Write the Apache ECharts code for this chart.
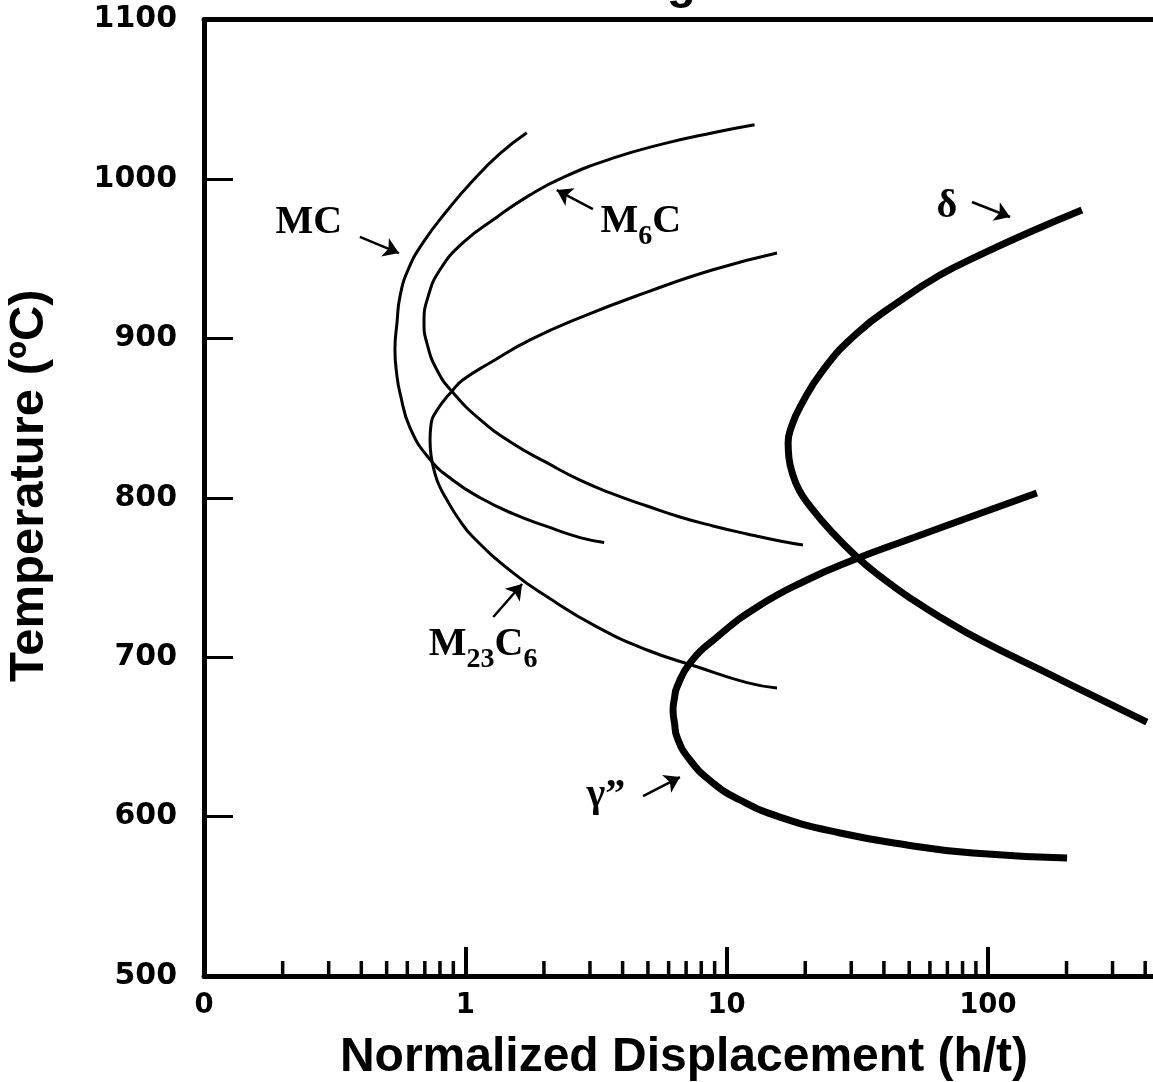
<!DOCTYPE html>
<html><head><meta charset="utf-8">
<script src="https://cdn.jsdelivr.net/npm/echarts@6/dist/echarts.min.js"></script>
<style>html,body{margin:0;padding:0;background:#fff}#c{width:1153px;height:1082px}</style>
</head><body><div id="c"></div>
<script>
// ---- data (x = normalized displacement h/t, log scale; y = temperature °C) ----
const xTickLabels = { '0.1': '0', '1': '1', '10': '10', '100': '100' };
const yTicks = [500, 600, 700, 800, 900, 1000, 1100];
const xRange = [0.1, 440];   // the picture is cropped at the right edge
const minorTicks = [0.2,0.3,0.4,0.5,0.6,0.7,0.8,0.9, 2,3,4,5,6,7,8,9, 20,30,40,50,60,70,80,90, 200,300,400];

const mcCurve = [[1.72,1029],[1.36,1016],[1.07,999],[0.851,980],[0.689,960],[0.604,943],[0.562,926],[0.548,910],[0.538,893],[0.548,876],[0.562,866],[0.614,844],[0.733,824],[0.897,811],[1.14,800],[1.52,790],[2.05,782],[2.75,775],[3.40,772]];
const m6cCurve = [[12.8,1034],[8.87,1029],[5.71,1022],[3.67,1013],[2.37,1001],[1.77,990],[1.32,976],[0.98,960],[0.80,943],[0.72,926],[0.695,910],[0.713,897],[0.78,880],[0.897,866],[1.14,849],[1.52,834],[2.05,822],[2.75,811],[3.67,802.4],[4.96,794.8],[6.63,787.9],[8.87,782.3],[11.97,777.3],[16.0,772.9],[19.6,770.4]];
const m23c6Curve = [[15.6,953.5],[8.87,943],[4.96,929],[2.75,913],[1.77,899],[1.24,884.5],[0.98,874],[0.897,867.6],[0.78,855],[0.739,845.6],[0.733,836.2],[0.739,826.8],[0.759,817.4],[0.793,808],[0.851,798.6],[0.938,787.3],[1.07,775.4],[1.52,753],[2.05,738],[3.19,719],[4.96,704.5],[7.70,694],[11.97,684],[15.6,680.6]];
const deltaCurve = [[229,980.5],[145,966.7],[93.3,952.3],[65.6,939.7],[44.9,922.2],[31.6,903.3],[23.4,880.1],[19.1,856.9],[17.8,845.6],[17.2,834.3],[17.33,824.9],[17.8,816.1],[18.93,804.9],[20.85,794.8],[24.87,779.8],[31.55,762.8],[40.38,748.4],[51.69,735.9],[68.52,723.3],[93.3,710.8],[168,690.1],[268.5,673.7],[406,659.3]];
const gammaCurve = [[154,803],[87.7,788.5],[49.0,773.5],[30.5,760.9],[20.3,748.4],[13.1,731.5],[9.19,712.6],[7.24,696.3],[6.46,681.3],[6.32,674.4],[6.24,666.8],[6.32,658.7],[6.46,649.9],[7.24,635.5],[8.87,621.1],[11.25,610.4],[16.0,599.7],[27.2,589.7],[49.0,582.2],[87.7,577.1],[201,574]];

const arrowMC = [[0.395,963.6],[0.557,953.5]];
const arrowM6C = [[3.08,981.1],[2.24,993.0]];
const arrowM23C6 = [[1.28,725.2],[1.65,745.9]];
const arrowDelta = [[86.9,985.5],[121.6,976.1]];
const arrowGamma = [[4.79,612.9],[6.63,624.8]];

const labelTexts = ['{b|MC}', '{b|M}{s|6}{b|C}', '{b|M}{s|23}{b|C}{s|6}', '{b|δ}', '{b|γ”}'];
const labelPos = [[0.252,972.5],[4.70,973.3],[1.17,708],[69.7,982.5],[3.45,612.9]];

// ---- chart ----
const SANS = 'Liberation Sans, Arial, sans-serif';
const SERIF = 'Liberation Serif, Times New Roman, serif';
const chart = echarts.init(document.getElementById('c'), null, { renderer: 'canvas' });

function curve(data, w) {
  return { type: 'line', data: data, smooth: 0.5, symbol: 'none', silent: true,
    lineStyle: { color: '#000', width: w, cap: 'butt', join: 'round' }, z: 3 };
}

const option = {
  animation: false,
  backgroundColor: '#fff',
  title: { text: 'g', left: 667, top: -38, padding: 0,
    textStyle: { fontFamily: SANS, fontWeight: 'bold', fontSize: 47, color: '#000' } },
  grid: { left: 204, top: 19.5, width: 952, height: 956.5, outerBoundsMode: 'none', containLabel: false },
  xAxis: [{
    type: 'log', logBase: 10, min: xRange[0], max: xRange[1], position: 'bottom',
    name: 'Normalized Displacement (h/t)', nameLocation: 'middle', nameGap: 58,
    nameTextStyle: { fontFamily: SANS, fontWeight: 'bold', fontSize: 48, color: '#000', padding: [0, 0, 0, 8] },
    axisLine: { show: true, lineStyle: { color: '#000', width: 5 } },
    axisTick: { show: true, inside: true, length: 29, lineStyle: { color: '#000', width: 4 } },
    axisLabel: { show: true, margin: 16, color: '#000', fontFamily: 'DejaVu Sans', fontWeight: 'bold', fontSize: 27.5,
      showMaxLabel: false,
      formatter: v => { const k = String(+v.toPrecision(6)); return xTickLabels[k] !== undefined ? xTickLabels[k] : ''; } },
    splitLine: { show: false }, minorTick: { show: false }
  }, {
    type: 'log', logBase: 10, min: xRange[0], max: xRange[1], position: 'top',
    axisLine: { show: true, lineStyle: { color: '#000', width: 5 } },
    axisTick: { show: false }, axisLabel: { show: false }, splitLine: { show: false }
  }],
  yAxis: {
    type: 'value', min: yTicks[0], max: yTicks[yTicks.length - 1], interval: 100,
    name: 'Temperature (ºC)', nameLocation: 'middle', nameGap: 150, nameRotate: 90,
    nameTextStyle: { fontFamily: SANS, fontWeight: 'bold', fontSize: 49, color: '#000', padding: [0, 0, 0, 24] },
    axisLine: { show: true, lineStyle: { color: '#000', width: 5 } },
    axisTick: { show: true, inside: true, length: 29, lineStyle: { color: '#000', width: 3 } },
    axisLabel: { show: true, margin: 27, color: '#000', fontFamily: 'DejaVu Sans', fontWeight: 'bold', fontSize: 30,
      formatter: v => String(v) },
    splitLine: { show: false }
  },
  series: [
    curve(mcCurve, 3), curve(m6cCurve, 3), curve(m23c6Curve, 3),
    curve(deltaCurve, 7), curve(gammaCurve, 7),
    {
      type: 'lines', coordinateSystem: 'cartesian2d', silent: true, z: 4,
      symbol: ['none', 'arrow'], symbolSize: 15,
      lineStyle: { color: '#000', width: 2.5, opacity: 1, curveness: 0 },
      data: [arrowMC, arrowM6C, arrowM23C6, arrowDelta, arrowGamma].map(c => ({ coords: c }))
    },
    {
      type: 'scatter', silent: true, symbolSize: 0, z: 5,
      itemStyle: { opacity: 1 },
      data: labelPos.map((p, i) => ({ value: p, label: { formatter: labelTexts[i] } })),
      label: { show: true, position: 'inside', color: '#000', opacity: 1,
        rich: {
          b: { fontFamily: SERIF, fontWeight: 'bold', fontSize: 40, color: '#000' },
          s: { fontFamily: SERIF, fontWeight: 'bold', fontSize: 28, color: '#000', padding: [30, 0, 0, 0] }
        } }
    },
    {
      type: 'scatter', silent: true, z: 2, symbol: 'rect', symbolSize: [3.5, 15], symbolOffset: [0, -7.5],
      itemStyle: { color: '#000', opacity: 1 },
      data: minorTicks.map(v => [v, yTicks[0]])
    }
  ]
};
chart.setOption(option);
</script>
</body></html>
